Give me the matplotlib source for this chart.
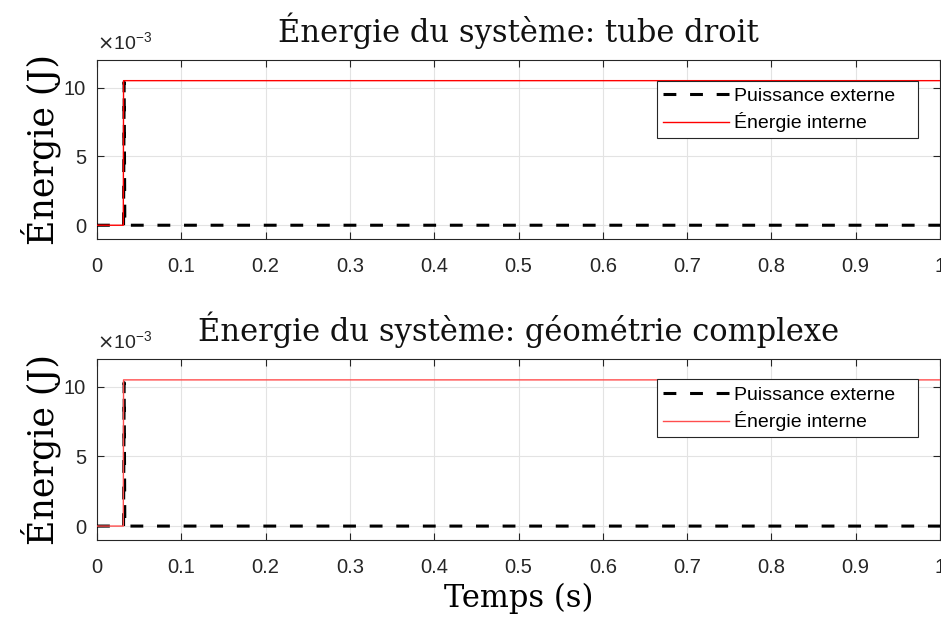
import matplotlib
matplotlib.use("Agg")
import matplotlib.pyplot as plt
from matplotlib.patches import Rectangle
import numpy as np

# Data (energies in J)
temps_ext = [0.0, 0.0315, 0.0322, 0.0330, 1.0]
puissance_tube = [0.0, 0.0, 10.4e-3, 0.0, 0.0]
temps_int = [0.0, 0.0312, 0.0315, 1.0]
energie_tube = [0.0, 0.0, 10.5e-3, 10.5e-3]

puissance_geo = [0.0, 0.0, 10.3e-3, 0.0, 0.0]
energie_geo = [0.0, 0.0, 10.5e-3, 10.5e-3]

titles = ["Énergie du système: tube droit", "Énergie du système: géométrie complexe"]
xticks = [0, 0.1, 0.2, 0.3, 0.4, 0.5, 0.6, 0.7, 0.8, 0.9, 1]
xticklabels = ["0", "0.1", "0.2", "0.3", "0.4", "0.5", "0.6", "0.7", "0.8", "0.9", "1"]
yticks = [0, 5e-3, 10e-3]
yticklabels = ["0", "5", "10"]
leg_labels = ["Puissance externe", "Énergie interne"]

plt.rcParams['font.family'] = ['Liberation Sans', 'DejaVu Sans']
serif = ['DejaVu Serif']

fig = plt.figure(figsize=(9.41, 6.19), dpi=100)
W, H = 941, 619
boxes = [(97, 60, 940, 239), (97, 359, 940, 540)]
reds = ['#ff0000', '#ff4d4d']
series = [(puissance_tube, energie_tube), (puissance_geo, energie_geo)]
spine_c = '#262626'

for i, (box, title, (p, e), rc) in enumerate(zip(boxes, titles, series, reds)):
    x0, y0, x1, y1 = box
    aw, ah = x1 - x0, y1 - y0
    ax = fig.add_axes([x0 / W, 1 - y1 / H, aw / W, ah / H])
    ax.plot(temps_ext, p, color='black', lw=2.2, ls=(0, (4.2, 4.5)), label=leg_labels[0], zorder=3)
    ax.plot(temps_int, e, color=rc, lw=1.0, label=leg_labels[1], zorder=4)
    ax.set_xlim(0, 1)
    ax.set_ylim(-1e-3, 12e-3)
    ax.set_xticks(xticks)
    ax.set_xticklabels(xticklabels, fontsize=14.5)
    ax.set_yticks(yticks)
    ax.set_yticklabels(yticklabels, fontsize=14.5)
    ax.tick_params(direction='in', top=True, right=True, length=5, width=0.8, colors=spine_c)
    ax.tick_params(axis='x', pad=13)
    ax.tick_params(axis='y', pad=8)
    for tl in ax.get_xticklabels() + ax.get_yticklabels():
        tl.set_color('#262626')
    ax.grid(True, color='#e3e3e3', lw=0.8)
    ax.set_axisbelow(True)
    for s in ax.spines.values():
        s.set_color(spine_c)
        s.set_linewidth(0.8)
    ax.set_title(title, family=serif, fontsize=22, pad=13, color='#111111')
    ax.set_ylabel("Énergie (J)", family=serif, fontsize=25, labelpad=2)
    ax.text(0.0, 1.035, r"$\times$10$^{\mathregular{-3}}$", transform=ax.transAxes,
            fontsize=14, color='#262626', ha='left', va='bottom')
    # legend frame (MATLAB style box), offsets in pixels from axes top-left
    fl, ft, fr, fb = 560, 20.5, 821, 78
    ax.add_patch(Rectangle((fl / aw, 1 - fb / ah), (fr - fl) / aw, (fb - ft) / ah,
                           transform=ax.transAxes, facecolor='white',
                           edgecolor=spine_c, lw=0.8, zorder=5))
    leg = ax.legend(loc='upper left', bbox_to_anchor=(566 / aw, 1 - 27 / ah),
                    fontsize=14, frameon=False, handlelength=3.4, handletextpad=0.27,
                    borderpad=0, labelspacing=0.4, borderaxespad=0)
    leg.set_zorder(6)
    if i == 1:
        ax.set_xlabel("Temps (s)", family=serif, fontsize=22, labelpad=4)

fig.savefig("out.png", dpi=100)
